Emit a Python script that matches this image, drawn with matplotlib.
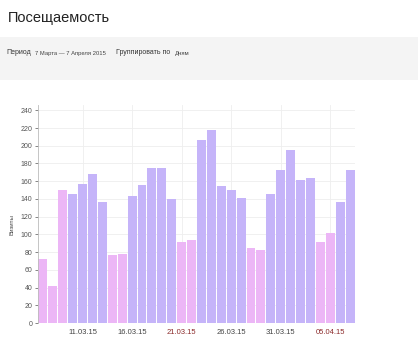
import numpy as np
import matplotlib.pyplot as plt
from matplotlib.patches import Rectangle
import pandas as pd

days = pd.date_range('2015-03-07', '2015-04-07', freq='D')
visits = [72, 42, 150, 146, 157, 168, 137,
          77, 78, 143, 156, 175, 175, 140,
          91, 94, 206, 218, 155, 150, 141,
          85, 82, 146, 173, 195, 161, 164,
          91, 101, 137, 173]
holidays = ['2015-03-09']
tick_days = ['2015-03-11', '2015-03-16', '2015-03-21', '2015-03-26', '2015-03-31', '2015-04-05']

PURPLE = '#c5b4f9'
PINK = '#ecb6f6'

plt.rcParams['font.family'] = ['Liberation Sans', 'DejaVu Sans']


def is_weekend(d):
    return d.weekday() >= 5 or d.strftime('%Y-%m-%d') in holidays


def main():
    fig = plt.figure(figsize=(4.18, 3.53), dpi=100)
    fig.patch.set_facecolor('white')

    # header
    fig.text(8 / 418, 1 - 18 / 353, 'Посещаемость', fontsize=10.5, va='center', color='#222222')
    fig.patches.append(Rectangle((0, 1 - 80 / 353), 1, 43 / 353, transform=fig.transFigure,
                                 facecolor='#f4f4f4', edgecolor='none', zorder=0))
    y_hdr = 1 - 53 / 353
    fig.text(6 / 418, y_hdr, 'Период', fontsize=5, va='center', color='#333333')
    fig.text(35 / 418, y_hdr, '7 Марта — 7 Апреля 2015', fontsize=4.2, va='center', color='#444444')
    fig.text(116 / 418, y_hdr, 'Группировать по', fontsize=5, va='center', color='#333333')
    fig.text(175 / 418, y_hdr, 'Дням', fontsize=4.2, va='center', color='#444444')

    ax = fig.add_axes([38 / 418, 30 / 353, 317 / 418, 218 / 353])
    x = np.arange(len(visits))
    colors = [PINK if is_weekend(d) else PURPLE for d in days]
    ax.bar(x, visits, width=0.9, color=colors, zorder=2)

    ax.set_xlim(-0.5, len(visits) - 0.5)
    ax.set_ylim(0, 246)
    ax.set_yticks(np.arange(0, 241, 20))
    ax.tick_params(axis='y', labelsize=5, colors='#555555', length=2, width=0.5, pad=2)

    tick_pos = [list(days.strftime('%Y-%m-%d')).index(t) for t in tick_days]
    ax.set_xticks(tick_pos)
    ax.set_xticklabels([pd.Timestamp(t).strftime('%d.%m.%y') for t in tick_days], fontsize=5.5)
    ax.tick_params(axis='x', length=0, pad=4)
    for lbl, t in zip(ax.get_xticklabels(), tick_days):
        lbl.set_color('#8b2a2a' if pd.Timestamp(t).weekday() >= 5 else '#444444')

    ax.grid(True, color='#eeeeee', linewidth=0.6, zorder=0)
    for side in ['top', 'right', 'bottom']:
        ax.spines[side].set_visible(False)
    ax.spines['left'].set_color('#bbbbbb')
    ax.spines['left'].set_linewidth(0.6)
    ax.set_ylabel('Визиты', fontsize=4.5, color='#444444')
    ax.yaxis.set_label_coords(-0.075, 0.45)

    fig.savefig('out.png', dpi=100)


if __name__ == "__main__":
    main()
